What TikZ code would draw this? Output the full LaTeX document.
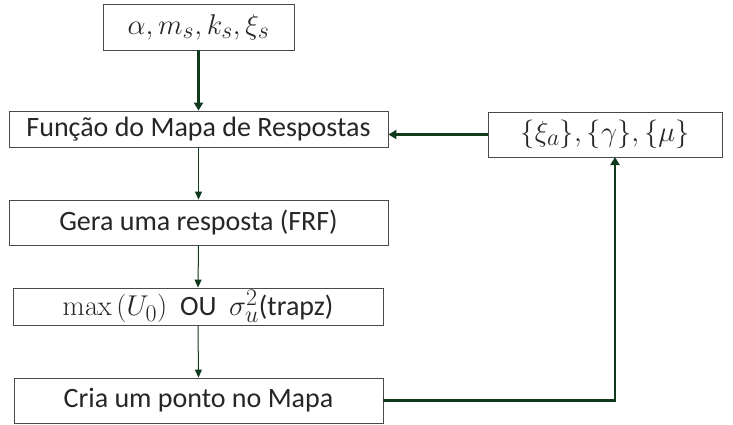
\documentclass[tikz,border=0pt]{standalone}
\usepackage[no-math]{fontspec}
\usepackage{graphicx}
\setmainfont{Carlito}
\usetikzlibrary{arrows.meta}
\definecolor{lin}{HTML}{0F3A1C}
\definecolor{bord}{HTML}{4A4A4A}
\definecolor{txt}{HTML}{262626}
\newcommand{\mymath}[1]{\scalebox{1.15}{$#1$}}
\tikzset{
  box/.style={draw=bord, line width=0.9pt, fill=white, rectangle, inner sep=0pt, text=txt, font=\fontsize{28}{32}\selectfont},
  thin/.style={draw=lin, line width=1pt, -{Triangle[width=7pt,length=8pt]}},
  thick/.style={draw=lin, line width=2.6pt, -{Triangle[width=9pt,length=8pt]}},
}
\begin{document}
\begin{tikzpicture}[x=1pt,y=-1pt]
\useasboundingbox (0,0) rectangle (733,424);
\node[box, minimum width=191pt, minimum height=46pt] (b1) at (198.5,27) {\mymath{\alpha, m_s, k_s, \xi_s}};
\node[box, minimum width=379pt, minimum height=36pt] (b2) at (198.5,129) {Função do Mapa de Respostas};
\node[box, minimum width=234pt, minimum height=45pt] (b3) at (605,134.5) {\mymath{\{\xi_a\}, \{\gamma\}, \{\mu\}}};
\node[box, minimum width=379pt, minimum height=45pt] (b4) at (198.5,222.5) {Gera uma resposta (FRF)};
\node[box, minimum width=370pt, minimum height=37pt] (b5) at (198,306.5) {\mymath{\max\,(U_0)}\ \ OU\ \ \mymath{\sigma_u^2}(trapz)};
\node[box, minimum width=369pt, minimum height=45pt] (b6) at (198.5,400.5) {Cria um ponto no Mapa};
\coordinate (c1) at (615,401);
\coordinate (c2) at (615,157);
\draw[thick] (b1.south) -- (b2.north);
\draw[thick] (b3.west) -- (b3.west -| b2.east);
\draw[thin] (b2.south) -- (b4.north);
\draw[thin] (b4.south) -- (b5.north);
\draw[thin] (b5.south) -- (b6.north);
\draw[thick] (b6.east) -- (b6.east -| c1) -- (c2);
\end{tikzpicture}
\end{document}
